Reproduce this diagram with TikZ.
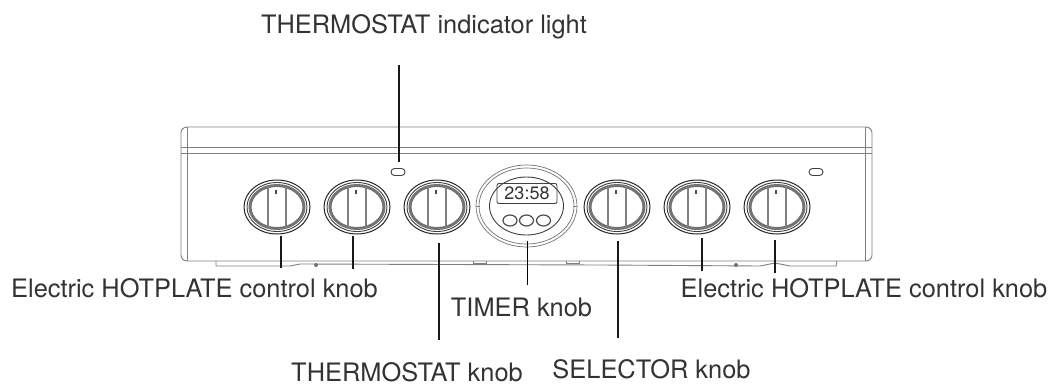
\documentclass[tikz,border=0pt]{standalone}
\usepackage{fontspec}
\setmainfont{TeX Gyre Heros}
\usetikzlibrary{calc,positioning}
\usetikzlibrary{shapes.geometric,shapes.misc}

\begin{document}
\begin{tikzpicture}[
    x=1pt,
    y=-1pt,
    panelline/.style={draw=black!50,line width=0.9pt},
    leader/.style={draw=black!90,line width=1.6pt},
    knobrim/.style={
        ellipse,
        draw=black!85,
        line width=1pt,
        minimum width=66pt,
        minimum height=54pt,
        inner sep=0pt
    },
    knobring/.style={
        ellipse,
        draw=black!55,
        inner sep=0pt
    },
    lamp/.style={
        rounded rectangle,
        draw=black!75,
        line width=0.9pt,
        minimum width=14pt,
        minimum height=7pt,
        inner sep=0pt
    },
    timerring/.style={
        ellipse,
        draw=black!55,
        line width=0.7pt,
        inner sep=0pt
    },
    timerbutton/.style={
        ellipse,
        draw=black!70,
        line width=1.2pt,
        minimum width=14pt,
        minimum height=11pt,
        inner sep=0pt
    },
    caption/.style={
        font=\fontsize{25.4}{27}\selectfont,
        text=black!80,
        anchor=base,
        inner sep=0pt
    }
]

\useasboundingbox (0,0) rectangle (1051,385);

% ---------------------------------------------------------
% Panel outline
% ---------------------------------------------------------

\draw[panelline,rounded corners=6pt]
    (181,127) rectangle (872,261);

\draw[panelline]
    (181,147) -- (872,147);
\draw[panelline]
    (181,153) -- (872,153);
\draw[panelline]
    (187,127) -- (187,261);
\draw[panelline]
    (865,127) -- (865,261);
\draw[panelline]
    (216,261) -- (216,266) -- (290,266) -- (300,264) -- (600,265)
    -- (760,266) -- (775,263) -- (790,266) -- (836,266) -- (837,261);

% small marks under the panel
\draw[panelline] (473,261) -- (473,263) -- (486,263) -- (486,261);
\draw[panelline] (566,261) -- (566,263) -- (579,263) -- (579,261);
\fill[black!55] (316,265) circle (2pt);
\fill[black!55] (736,265) circle (2pt);

% ---------------------------------------------------------
% Indicator lights
% ---------------------------------------------------------

\node[lamp] (lampL) at (398,172) {};
\node[lamp] (lampR) at (816,172) {};

% ---------------------------------------------------------
% Knobs
% ---------------------------------------------------------

\foreach \name/\xpos in {knobA/277,knobB/357,knobC/437,knobD/617,knobE/697,knobF/777}{
    \node[knobrim] (\name) at (\xpos,207) {};
    \node[knobring,line width=0.9pt,draw=black!75,minimum width=60pt,minimum height=49pt] at (\xpos,207) {};
    \node[knobring,line width=3pt,minimum width=54pt,minimum height=43pt] at (\xpos,207) {};
    \draw[draw=black!50,line width=2.2pt]
        (\xpos-9,185) -- (\xpos-9,229)
        (\xpos+9,185) -- (\xpos+9,229);
    \draw[draw=black!70,line width=1.4pt]
        (\xpos-1,190) -- (\xpos-1,194);
}

% ---------------------------------------------------------
% Timer
% ---------------------------------------------------------

\node[timerring,minimum width=101pt,minimum height=82pt]
    (timer) at (526.5,206) {};
\node[timerring,minimum width=95pt,minimum height=76pt]
    at (526.5,206) {};
\node[timerring,draw=black!75,line width=0.9pt,minimum width=74pt,minimum height=58pt]
    at (526.5,206) {};

\draw[panelline] (timer.west) -- ++(4,0);
\draw[panelline] (timer.east) -- ++(-4,0);

\node[
    draw=black!75,
    rounded corners=2pt,
    line width=0.9pt,
    minimum width=60pt,
    minimum height=20pt,
    inner sep=0pt,
    text=black!80,
    font=\fontsize{18}{18}\selectfont
] (display) at (527,193.5) {23:58};

\node[timerbutton] (btnA) at (510,220.5) {};
\node[timerbutton] (btnB) at (526.5,220.5) {};
\node[timerbutton] (btnC) at (543.5,220.5) {};

% ---------------------------------------------------------
% Captions
% ---------------------------------------------------------

\node[caption] (capLamp) at (424,34) {THERMOSTAT indicator light};
\node[caption] (capLeft) at (194.5,297) {Electric HOTPLATE control knob};
\node[caption] (capRight) at (864,297) {Electric HOTPLATE control knob};
\node[caption] (capTimer) at (521.5,316) {TIMER knob};
\node[caption] (capTherm) at (407,381) {THERMOSTAT knob};
\node[caption] (capSel) at (651.5,378) {SELECTOR knob};

% ---------------------------------------------------------
% Leader lines
% ---------------------------------------------------------

\coordinate (lampEnd) at (399,65);
\coordinate (lampTip) at (399,162);
\draw[leader] (lampEnd) -- (lampTip);

\foreach \name/\xpos/\ya/\yb in {leadA/281/236/268,leadB/353/236/269,leadC/439/243/340,leadD/618/241/338,leadE/702/238/271,leadF/775/240/273}{
    \coordinate (\name a) at (\xpos,\ya);
    \coordinate (\name b) at (\xpos,\yb);
    \draw[leader] (\name a) -- (\name b);
}

\coordinate (timerEnd) at (527,285);
\coordinate (timerTip) at (527,241);
\draw[draw=black,line width=1pt] (timerEnd) -- (timerTip);

\end{tikzpicture}
\end{document}
